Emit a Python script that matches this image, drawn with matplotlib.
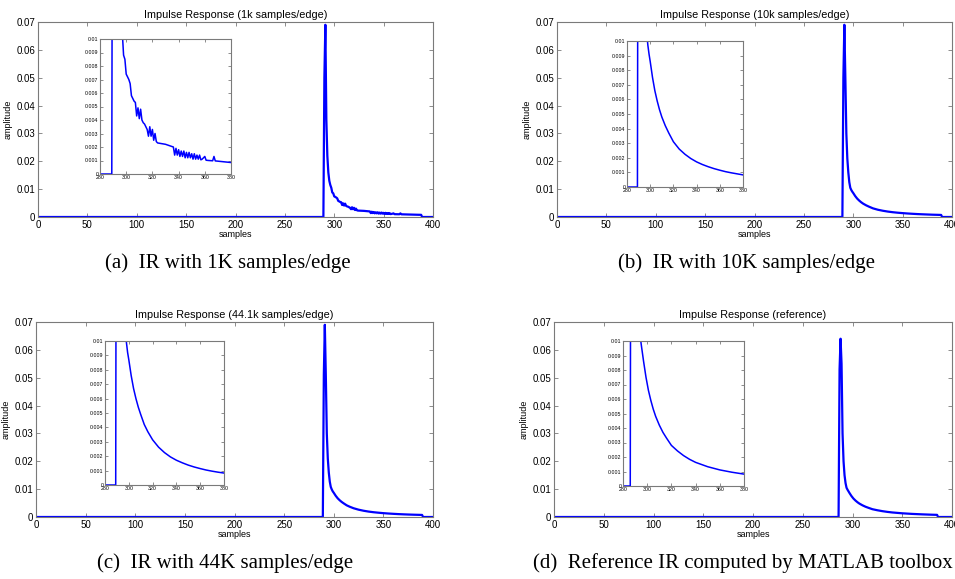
import numpy as np
import matplotlib.pyplot as plt

plt.rcParams['font.family'] = ['Liberation Sans', 'DejaVu Sans']

# ---- data ----
# (a) 1k samples/edge : noisy decay
samples_a = [0, 289, 290, 291, 292, 293, 294, 295, 296, 297, 298, 299, 300, 301, 302,
             303, 304, 305, 306, 307, 308, 309, 310, 311, 312, 313, 314, 315, 316, 317,
             318, 319, 320, 321, 322, 323, 324, 330, 336, 337, 338, 339, 340, 341, 342,
             343, 344, 345, 346, 347, 348, 349, 350, 351, 352, 353, 354, 355, 356, 357,
             358, 360, 361, 363, 366, 367, 368, 372, 376, 380, 385, 388, 389, 400]
amp_a = [0, 0, 0.050, 0.069, 0.035, 0.022, 0.016, 0.013, 0.0115, 0.0105, 0.0088, 0.0085,
         0.0074, 0.0072, 0.0070, 0.0067, 0.0058, 0.0056, 0.0054, 0.0053, 0.0043, 0.0049,
         0.0041, 0.0048, 0.0040, 0.0038, 0.0037, 0.0035, 0.0033, 0.0028, 0.0035, 0.0028,
         0.0033, 0.0025, 0.0030, 0.0024, 0.0023, 0.0022, 0.0020, 0.0014, 0.0019, 0.0014,
         0.0018, 0.0013, 0.0017, 0.0013, 0.0017, 0.0012, 0.0016, 0.0012, 0.0016, 0.0012,
         0.0015, 0.0011, 0.0015, 0.0011, 0.0014, 0.0011, 0.0014, 0.00105, 0.0011, 0.0013,
         0.00102, 0.0010, 0.00098, 0.0013, 0.00097, 0.00093, 0.00089, 0.00085, 0.0008,
         0.00078, 0, 0]

# (b) 10k samples/edge
samples_b = [0, 289, 290, 291, 292, 293, 294, 295, 296, 297, 298, 299, 300, 302, 304, 306,
             308, 310, 313, 316, 320, 325, 330, 335, 340, 345, 350, 355, 360, 365, 370,
             375, 380, 385, 389, 390, 400]
amp_b = [0, 0, 0.050, 0.069, 0.050, 0.030, 0.021, 0.016, 0.0125, 0.0105, 0.0097, 0.0091,
         0.0086, 0.0075, 0.0066, 0.0059, 0.0053, 0.0048, 0.0042, 0.0037, 0.0031, 0.0026,
         0.00224, 0.00195, 0.00172, 0.00154, 0.00139, 0.00126, 0.00115, 0.00105, 0.00097,
         0.0009, 0.00083, 0.00078, 0.00074, 0, 0]

# (c) 44.1k samples/edge
samples_c = [0, 289, 290, 291, 292, 293, 294, 295, 296, 297, 298, 299, 300, 302, 304, 306,
             308, 310, 313, 316, 320, 325, 330, 335, 340, 345, 350, 355, 360, 365, 370,
             375, 380, 385, 389, 390, 400]
amp_c = [0, 0, 0.051, 0.069, 0.051, 0.030, 0.021, 0.016, 0.0127, 0.0108, 0.0099, 0.0092,
         0.0087, 0.0076, 0.0067, 0.0060, 0.0054, 0.0049, 0.0042, 0.0037, 0.00314, 0.00263,
         0.00225, 0.00195, 0.00172, 0.00154, 0.00138, 0.00125, 0.00114, 0.00104, 0.00096,
         0.00089, 0.00083, 0.00078, 0.00074, 0, 0]

# (d) reference (MATLAB toolbox)
samples_d = [0, 286, 287, 288, 289, 290, 291, 292, 293, 294, 295, 296, 297, 299, 301, 303,
             305, 307, 310, 313, 316, 320, 325, 330, 335, 340, 350, 360, 370, 380, 385,
             386, 400]
amp_d = [0, 0, 0.053, 0.064, 0.055, 0.030, 0.020, 0.015, 0.0122, 0.0105, 0.0098, 0.0092,
         0.0086, 0.0075, 0.0066, 0.0059, 0.0053, 0.0048, 0.0042, 0.0037, 0.0033, 0.0028,
         0.00242, 0.0021, 0.00184, 0.00163, 0.00133, 0.00111, 0.00095, 0.00082, 0.00077,
         0, 0]

titles = ['Impulse Response (1k samples/edge)', 'Impulse Response (10k samples/edge)',
          'Impulse Response (44.1k samples/edge)', 'Impulse Response (reference)']
captions = ['(a)  IR with 1K samples/edge', '(b)  IR with 10K samples/edge',
            '(c)  IR with 44K samples/edge', '(d)  Reference IR computed by MATLAB toolbox']

main_yticks = [0, 0.01, 0.02, 0.03, 0.04, 0.05, 0.06, 0.07]
main_ylabels = ['0', '0.01', '0.02', '0.03', '0.04', '0.05', '0.06', '0.07']
inset_yticks = [i / 1000 for i in range(11)]
inset_ylabels = ['0'] + ['0.%03d' % i for i in range(1, 10)] + ['0.01']

W, H = 955, 579
fig = plt.figure(figsize=(W / 100, H / 100), dpi=100)


def rect(x0, y0, x1, y1):
    # pixel box -> figure fraction
    return [x0 / W, 1 - y1 / H, (x1 - x0) / W, (y1 - y0) / H]


def style(ax, fs):
    for s in ax.spines.values():
        s.set_color('#7a7a7a')
        s.set_linewidth(0.8)
    ax.tick_params(direction='in', top=True, right=True, length=3, width=0.6,
                   color='#7a7a7a', labelsize=fs, pad=2)


main_boxes = [(38, 22, 433, 217), (557, 22, 952, 217),
              (36, 322, 433, 517), (554, 322, 952, 517)]
inset_boxes = [(100, 39, 231, 174), (627, 41, 743, 187),
               (105, 341, 224, 485), (623, 341, 744, 486)]
caption_pos = [(228, 263), (746, 263), (225, 563), (743, 563)]
series = [(samples_a, amp_a), (samples_b, amp_b), (samples_c, amp_c), (samples_d, amp_d)]

for i in range(4):
    xs, ys = series[i]
    ax = fig.add_axes(rect(*main_boxes[i]))
    ax.plot(xs, ys, color='#0000ff', linewidth=1.6)
    ax.set_xlim(0, 400)
    ax.set_ylim(0, 0.07)
    ax.set_xticks(range(0, 401, 50))
    ax.set_yticks(main_yticks)
    ax.set_yticklabels(main_ylabels)
    style(ax, 7)
    ax.set_title(titles[i], fontsize=7.8, pad=3)
    ax.set_xlabel('samples', fontsize=6.5, labelpad=0)
    ax.set_ylabel('amplitude', fontsize=6.5, labelpad=3)

    ins = fig.add_axes(rect(*inset_boxes[i]))
    ins.plot(xs, ys, color='#0000ff', linewidth=1.1)
    ins.set_xlim(280, 380)
    ins.set_ylim(0, 0.01)
    ins.set_xticks(range(280, 381, 20))
    ins.set_yticks(inset_yticks)
    ins.set_yticklabels(inset_ylabels)
    style(ins, 3.8)
    ins.tick_params(length=2, pad=1)

    cx, cy = caption_pos[i]
    fig.text(cx / W, 1 - cy / H, captions[i], ha='center', va='center',
             fontsize=15, family=['Liberation Serif', 'DejaVu Serif'])

fig.savefig('out.png', dpi=100)
